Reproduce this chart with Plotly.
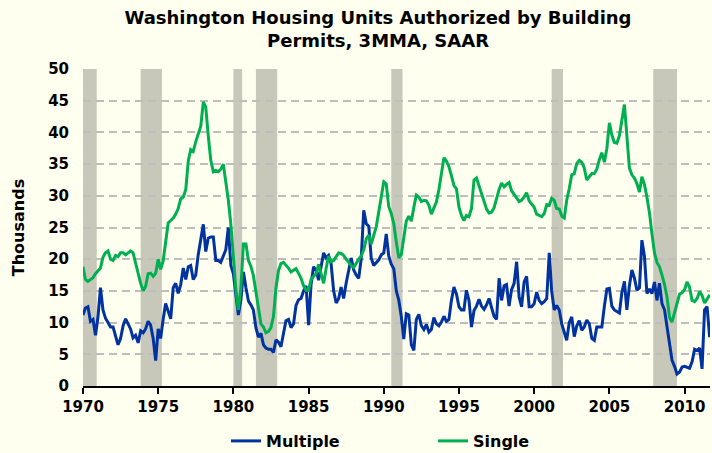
import pandas as pd
import plotly.graph_objects as go

# Bi-monthly samples (Jan, Mar, May, Jul, Sep, Nov) starting Jan 1970, thousands of units
start_date = "1970-01-01"

single = [
    18.8, 16.8, 16.5, 16.8, 17.1, 17.7,   # 1970
    18.1, 18.6, 20.3, 21.0, 21.3, 20.0,   # 1971
    19.8, 20.6, 20.4, 21.0, 21.0, 20.7,   # 1972
    21.0, 21.3, 21.0, 19.4, 17.5, 16.2,   # 1973
    15.0, 15.7, 17.7, 17.8, 17.3, 17.8,   # 1974
    20.0, 18.4, 19.7, 22.5, 25.7, 26.1,   # 1975
    26.5, 27.1, 28.0, 29.5, 29.8, 31.0,   # 1976
    35.5, 37.3, 37.0, 38.5, 39.7, 41.0,   # 1977
    44.8, 44.0, 39.5, 35.6, 33.8, 34.0,   # 1978
    33.8, 34.2, 35.0, 32.5, 29.3, 25.5,   # 1979
    20.5, 15.3, 12.0, 15.5, 22.4, 22.4,   # 1980
    19.8, 18.9, 17.4, 15.0, 12.0, 9.8,    # 1981
    9.3, 8.4, 8.6, 9.2, 11.0, 15.5,       # 1982
    18.2, 19.3, 19.5, 19.1, 18.6, 18.0,   # 1983
    18.3, 18.5, 17.8, 17.0, 15.8, 15.1,   # 1984
    15.1, 16.8, 17.3, 17.7, 19.2, 17.5,   # 1985
    16.2, 18.5, 20.5, 19.6, 19.8, 20.4,   # 1986
    21.0, 20.9, 20.6, 20.0, 19.4, 19.0,   # 1987
    18.7, 19.4, 20.0, 20.5, 21.5, 23.2,   # 1988
    23.8, 22.4, 23.8, 25.1, 27.5, 30.1,   # 1989
    32.2, 31.9, 28.3, 27.2, 25.6, 22.7,   # 1990
    20.2, 20.7, 23.2, 26.0, 26.8, 26.0,   # 1991
    28.2, 30.1, 29.8, 29.1, 29.3, 29.2,   # 1992
    28.5, 27.1, 28.1, 29.0, 31.0, 33.2,   # 1993
    36.0, 35.5, 34.6, 33.2, 31.6, 31.1,   # 1994
    28.2, 26.9, 26.1, 26.9, 26.7, 28.0,   # 1995
    32.5, 32.8, 31.6, 30.2, 29.3, 27.9,   # 1996
    27.3, 27.4, 28.1, 29.6, 31.0, 32.0,   # 1997
    31.4, 31.8, 32.1, 30.8, 30.2, 29.8,   # 1998
    29.1, 29.3, 29.8, 30.5, 29.2, 28.7,   # 1999
    28.2, 27.1, 26.9, 26.7, 27.2, 28.6,   # 2000
    28.5, 29.6, 29.3, 28.0, 27.9, 26.8,   # 2001
    26.5, 29.3, 31.1, 33.3, 33.5, 35.1,   # 2002
    35.6, 35.3, 34.4, 32.5, 33.0, 33.5,   # 2003
    33.5, 34.2, 35.7, 36.8, 35.3, 37.5,   # 2004
    41.5, 39.6, 38.4, 38.3, 39.5, 42.0,   # 2005
    44.4, 39.5, 34.4, 33.3, 32.8, 31.9,   # 2006
    30.6, 33.0, 31.8, 29.8, 27.3, 24.0,   # 2007
    21.0, 19.5, 18.8, 17.5, 16.0, 14.0,   # 2008
    10.8, 10.1, 11.7, 13.3, 14.5, 14.7,   # 2009
    15.2, 16.4, 15.6, 13.5, 13.3, 13.8,   # 2010
    14.9, 14.3, 13.1, 13.7, 14.4,         # 2011
]

multiple = [
    11.2, 12.3, 12.5, 10.2, 10.5, 8.0,    # 1970
    11.0, 15.5, 12.0, 10.7, 10.0, 9.3,    # 1971
    9.3, 8.0, 6.5, 7.5, 9.5, 10.6,        # 1972
    9.8, 9.0, 7.6, 8.0, 6.8, 8.7,         # 1973
    8.4, 9.0, 10.2, 9.6, 7.5, 4.0,        # 1974
    9.0, 7.5, 10.5, 13.0, 11.8, 10.6,     # 1975
    15.5, 16.2, 14.6, 16.0, 18.6, 16.8,   # 1976
    18.8, 19.0, 16.8, 17.5, 20.8, 23.5,   # 1977
    25.5, 21.2, 23.3, 23.5, 23.5, 19.8,   # 1978
    19.8, 19.5, 20.6, 21.5, 25.0, 19.0,   # 1979
    17.7, 14.2, 11.2, 13.5, 18.0, 15.5,   # 1980
    13.4, 12.8, 12.0, 9.2, 7.7, 8.3,      # 1981
    6.5, 6.0, 5.8, 5.8, 5.3, 7.3,         # 1982
    6.9, 6.2, 8.3, 10.3, 10.5, 9.2,       # 1983
    9.8, 12.7, 13.6, 13.8, 15.0, 15.8,    # 1984
    9.6, 16.0, 18.8, 18.3, 16.7, 18.8,    # 1985
    21.0, 20.2, 20.6, 19.3, 15.0, 13.1,   # 1986
    13.8, 15.6, 13.8, 16.2, 18.2, 20.2,   # 1987
    18.3, 17.5, 17.0, 20.0, 27.7, 25.6,   # 1988
    25.2, 20.2, 19.0, 19.4, 19.9, 20.7,   # 1989
    21.0, 24.0, 20.5, 19.2, 18.5, 15.0,   # 1990
    13.5, 11.0, 7.4, 11.4, 11.2, 6.5,     # 1991
    5.6, 10.5, 11.3, 9.5, 8.9, 9.7,       # 1992
    8.5, 8.9, 10.8, 9.8, 9.5, 10.1,       # 1993
    11.0, 10.2, 10.5, 13.5, 15.6, 14.5,   # 1994
    12.5, 12.0, 12.0, 15.1, 13.5, 9.3,    # 1995
    11.9, 12.6, 13.7, 12.6, 12.1, 12.8,   # 1996
    13.8, 12.4, 11.0, 10.5, 17.0, 13.5,   # 1997
    15.8, 16.0, 12.6, 15.2, 16.2, 19.6,   # 1998
    14.0, 12.5, 16.4, 17.3, 12.5, 12.5,   # 1999
    13.0, 14.8, 13.5, 13.0, 13.3, 13.8,   # 2000
    21.0, 15.0, 12.0, 12.7, 12.0, 9.8,    # 2001
    8.3, 7.2, 10.0, 10.9, 7.8, 9.5,       # 2002
    10.3, 8.8, 9.3, 10.4, 9.8, 7.5,       # 2003
    7.2, 9.3, 9.3, 9.3, 12.6, 15.3,       # 2004
    15.4, 12.6, 12.0, 11.8, 11.5, 14.8,   # 2005
    16.5, 12.0, 15.8, 18.3, 17.0, 15.1,   # 2006
    15.5, 23.0, 20.5, 14.6, 15.3, 14.6,   # 2007
    16.4, 13.5, 16.2, 13.0, 12.0, 9.3,    # 2008
    6.5, 4.1, 3.1, 1.9, 2.2, 3.0,         # 2009
    3.1, 3.0, 2.8, 3.8, 5.8, 5.6,         # 2010
    6.0, 2.7, 12.0, 12.5, 7.7,            # 2011
]

recession_start = ["1970-01-01", "1973-11-01", "1980-01-01", "1981-07-01",
                   "1990-07-01", "2001-03-01", "2007-12-01"]
recession_end = ["1970-12-01", "1975-04-01", "1980-08-01", "1982-12-01",
                 "1991-04-01", "2001-12-01", "2009-07-01"]

series_names = ["Multiple", "Single"]
series_colors = ["#0033A0", "#00B050"]

dates = pd.date_range(start_date, periods=len(single), freq="2MS")

BG = "#FFFFF0"
FONT = "DejaVu Sans"

fig = go.Figure()
for name, vals, col, lg in zip(series_names, [multiple, single], series_colors,
                               ["legend", "legend2"]):
    fig.add_trace(go.Scatter(x=dates, y=vals, mode="lines", name=name,
                             line=dict(color=col, width=3), legend=lg))

for s, e in zip(recession_start, recession_end):
    fig.add_shape(type="rect", xref="x", yref="y", x0=s, x1=e, y0=0, y1=50,
                  fillcolor="#C8C8BA", line=dict(width=0), layer="below")

fig.update_layout(
    width=712, height=453,
    margin=dict(l=83, r=2, t=69, b=67),
    paper_bgcolor=BG, plot_bgcolor=BG,
    font=dict(family=FONT, color="#000000"),
    title=dict(
        text="<b>Washington Housing Units Authorized by Building<br>Permits, 3MMA, SAAR</b>",
        x=378 / 712, xanchor="center", xref="container",
        y=1 - 24 / 453, yanchor="top", yref="container",
        font=dict(size=18, family=FONT, color="#000000"),
    ),
    legend=dict(orientation="h", xref="container", yref="container",
                x=226 / 712, xanchor="left", y=1 - 441 / 453, yanchor="middle",
                font=dict(size=16, family=FONT, weight="bold"),
                bgcolor="rgba(0,0,0,0)"),
    legend2=dict(orientation="h", xref="container", yref="container",
                 x=433 / 712, xanchor="left", y=1 - 441 / 453, yanchor="middle",
                 font=dict(size=16, family=FONT, weight="bold"),
                 bgcolor="rgba(0,0,0,0)"),
    showlegend=True,
)

fig.update_xaxes(
    type="date", range=["1970-01-01", "2011-09-10"],
    tick0="1970-01-01", dtick="M60", tickformat="%Y",
    showgrid=False, zeroline=False,
    showline=True, linecolor="#000000", linewidth=2,
    ticks="outside", ticklen=6, tickwidth=2, tickcolor="#000000",
    tickfont=dict(size=15, family=FONT, weight="bold"),
)
fig.update_yaxes(
    range=[0, 50], dtick=5, tick0=0,
    showgrid=True, gridcolor="#BDBDBD", gridwidth=2, griddash="8px,5px",
    zeroline=False, showline=False,
    ticks="", ticklabelstandoff=13,
    tickfont=dict(size=15, family=FONT, weight="bold"),
    title=dict(text="Thousands", standoff=19,
               font=dict(size=16, family=FONT, weight="bold")),
)

fig.write_html(
    "out.html",
    config={"displayModeBar": False},
    post_script="document.body.style.margin='0';document.body.style.overflow='hidden';",
)
